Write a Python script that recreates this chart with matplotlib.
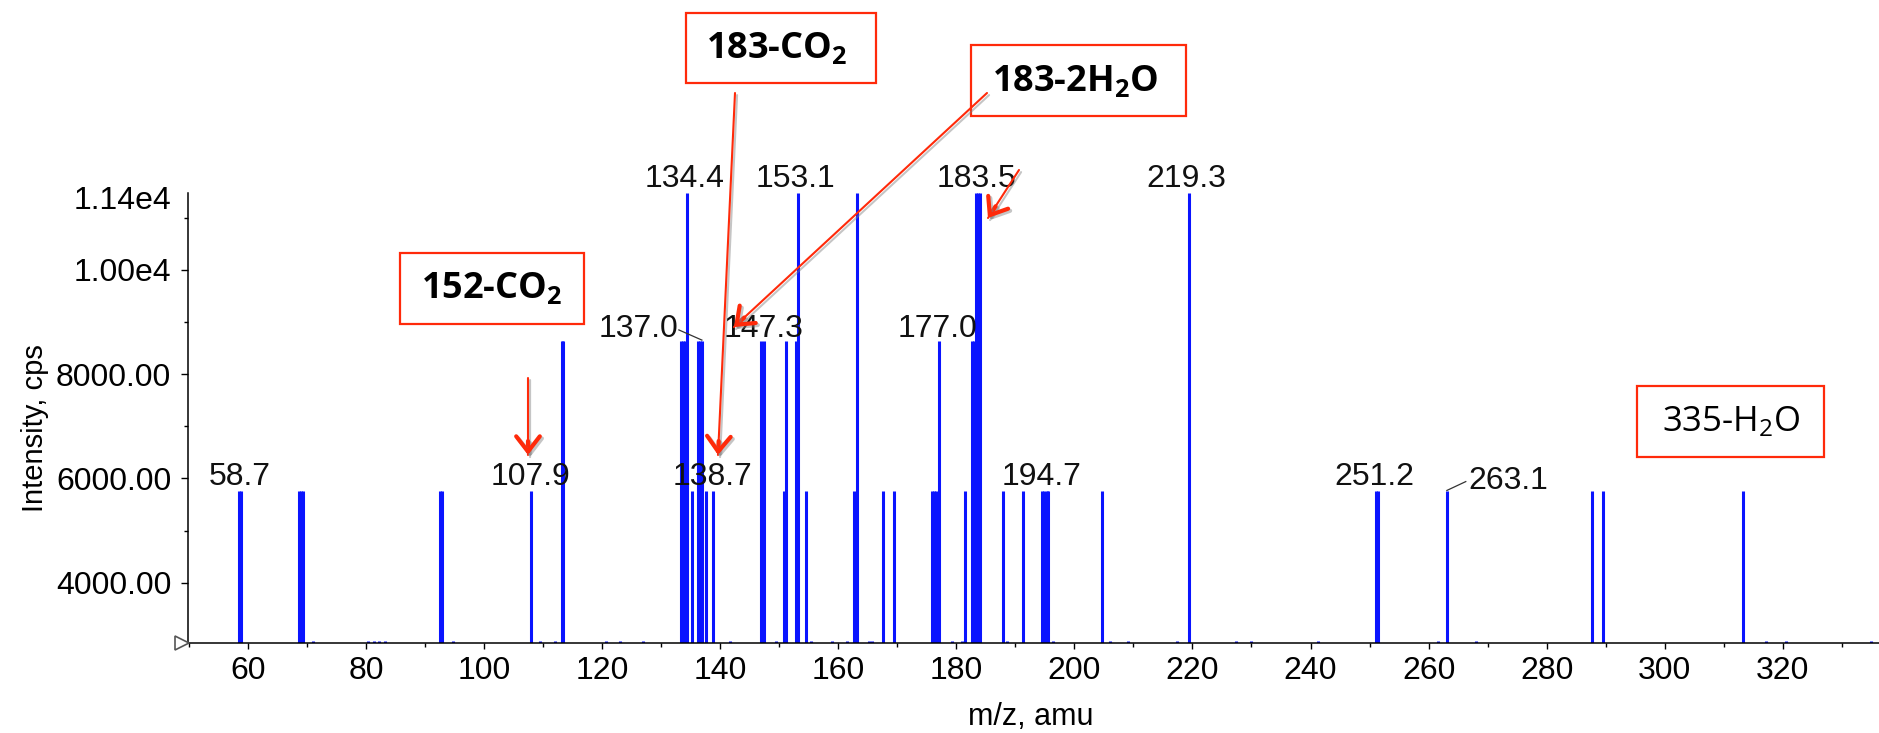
import matplotlib
matplotlib.use('Agg')
import matplotlib.pyplot as plt
from matplotlib.patches import Rectangle, FancyArrowPatch
from matplotlib import patheffects as pe
from matplotlib.ticker import FixedLocator, FixedFormatter
import numpy as np

# ---------------- data ----------------
L1, L2, L3, L4 = 2880, 5760, 8640, 11480

peak_mz = [58.55, 58.85, 68.6, 68.95, 69.3, 71.0, 80.4, 81.3, 82.2, 83.2,
           92.5, 92.85, 94.8, 107.9, 109.4, 112.0, 113.15, 113.45,
           120.7, 123.0, 126.9, 133.4, 133.7, 134.0, 134.4, 135.3,
           136.3, 136.65, 137.0, 137.6, 138.7, 141.7, 146.95, 147.35,
           149.4, 150.8, 151.2, 152.85, 153.15, 154.5, 155.3, 158.9,
           161.4, 162.65, 163.1, 165.2, 165.8, 167.65, 169.45,
           175.8, 176.15, 176.5, 177.1, 179.2, 180.9, 181.45,
           182.6, 182.95, 183.35, 183.65, 183.95, 187.9, 188.6, 191.3,
           194.55, 194.9, 195.3, 195.6, 196.4, 204.7, 206.1, 209.1,
           217.4, 219.4, 227.3, 229.9, 241.2, 251.05, 251.4, 261.6,
           263.2, 268.0, 287.7, 289.5, 313.2, 317.2, 320.5, 335.0]
peak_int = [L2, L2, L2, L2, L2, L1, L1, L1, L1, L1,
            L2, L2, L1, L2, L1, L1, L3, L3,
            L1, L1, L1, L3, L3, L3, L4, L2,
            L3, L3, L3, L2, L2, L1, L3, L3,
            L1, L2, L3, L3, L4, L2, L1, L1,
            L1, L2, L4, L1, L1, L2, L2,
            L2, L2, L2, L3, L1, L1, L2,
            L3, L3, L4, L4, L4, L2, L1, L2,
            L2, L2, L2, L2, L1, L2, L1, L1,
            L1, L4, L1, L1, L1, L2, L2, L1,
            L2, L1, L2, L2, L2, L1, L1, L1]

label_text = ['58.7', '107.9', '134.4', '137.0', '138.7', '147.3', '153.1',
              '177.0', '183.5', '194.7', '219.3', '251.2', '263.1']
label_x = [58.7, 107.9, 134.0, 126.1, 138.7, 147.4, 152.8,
           176.8, 183.4, 194.5, 219.0, 250.8, 266.8]
label_y = [L2, L2, L4, L3, L2, L3, L4, L3, L4, L2, L4, L2, L2]
label_ha = ['center'] * 12 + ['left']
label_dy = [6, 6, 6, 3.5, 6, 4, 6, 4, 6, 6, 6, 6, 2]   # pixels above level

# leader lines (m/z, intensity) pairs
leaders = [((133.0, 8850), (136.9, 8655)),
           ((263.1, 5770), (266.3, 5940))]

x_major = list(range(60, 321, 20))
x_minor = list(range(50, 336, 10))
y_major = [4000, 6000, 8000, 10000, 11400]
y_major_labels = ['4000.00', '6000.00', '8000.00', '1.00e4', '1.14e4']
y_minor = [5000, 7000, 9000, 11000]

# annotation boxes: (text, x0, x1, y0, y1, text-x, text-y, bold, size) in image pixels
boxes = [('152-CO$_\\mathbf{2}$', 400, 584, 253, 324, 492, 289, True, 26),
         ('183-CO$_\\mathbf{2}$', 686, 876, 13, 83, 777, 49, True, 26),
         ('183-2H$_\\mathbf{2}$O', 971, 1186, 45, 116, 1075, 82, True, 26),
         ('335-H$_2$O', 1637, 1824, 386, 457, 1731, 422, False, 25)]
arrows = [((528, 378), (528, 455)),
          ((735, 93), (718, 455)),
          ((987, 93), (734, 327)),
          ((1019, 170), (988, 218))]

# ---------------- style ----------------
W, H, DPI = 1879, 733, 100
BLUE = '#0a14ff'
RED = '#ff2a0a'

plt.rcParams['font.family'] = ['Liberation Sans', 'DejaVu Sans']
plt.rcParams['mathtext.fontset'] = 'custom'
plt.rcParams['mathtext.rm'] = 'Open Sans'
plt.rcParams['mathtext.bf'] = 'Open Sans:bold'
plt.rcParams['mathtext.it'] = 'Open Sans:italic'

fig = plt.figure(figsize=(W / DPI, H / DPI), dpi=DPI)
fig.patch.set_facecolor('white')
ax_left, ax_bottom_px, ax_top_px = 188, 643.3, 192.7
ax = fig.add_axes([ax_left / W, 1 - ax_bottom_px / H,
                   (W - ax_left) / W, (ax_bottom_px - ax_top_px) / H])

ax.vlines(peak_mz, 0, peak_int, colors=BLUE, lw=2.2)
ax.set_xlim(49.85, 336.3)
ax.set_ylim(2837, 11483)

for s in ['top', 'right']:
    ax.spines[s].set_visible(False)
for s in ['left', 'bottom']:
    ax.spines[s].set_linewidth(1.1)
    ax.spines[s].set_color('black')

ax.xaxis.set_major_locator(FixedLocator(x_major))
ax.xaxis.set_minor_locator(FixedLocator(x_minor))
ax.yaxis.set_major_locator(FixedLocator(y_major))
ax.yaxis.set_major_formatter(FixedFormatter(y_major_labels))
ax.yaxis.set_minor_locator(FixedLocator(y_minor))
ax.tick_params(axis='y', which='major', length=5, width=1, pad=7, labelsize=23)
ax.tick_params(axis='x', which='major', length=4.5, width=1, pad=5, labelsize=23)
ax.tick_params(which='minor', length=3, width=1)
# the top label (axis maximum) has no tick mark
ax.yaxis.get_major_ticks()[-1].tick1line.set_visible(False)

ax.set_xlabel('m/z, amu', fontsize=22)
ax.xaxis.set_label_coords(0.4985, (ax_bottom_px - 702) / (ax_bottom_px - ax_top_px))
ax.set_ylabel('Intensity, cps', fontsize=21)
ax.yaxis.set_label_coords((49 - ax_left) / (W - ax_left), 0.478)

# little start marker on the baseline
ax.plot([-0.0036], [0], transform=ax.transAxes, marker='>', ms=10,
        mfc='white', mec='#555555', mew=1.2, clip_on=False, zorder=5)

# peak labels
for t, x, y, ha, dy in zip(label_text, label_x, label_y, label_ha, label_dy):
    ax.annotate(t, (x, y), xytext=(0, dy * 72 / DPI), textcoords='offset points',
                ha=ha, va='baseline', fontsize=23, color='#111111',
                annotation_clip=False)
for (a, b) in leaders:
    ax.plot([a[0], b[0]], [a[1], b[1]], color='#333333', lw=0.9, clip_on=False)


def fpt(x, y):
    return (x / W, 1 - y / H)


# red boxes
for text, x0, x1, y0, y1, tx, ty, bold, size in boxes:
    r = Rectangle(fpt(x0, y1), (x1 - x0) / W, (y1 - y0) / H,
                  transform=fig.transFigure, facecolor='white', edgecolor=RED,
                  lw=1.6, zorder=5)
    fig.add_artist(r)
    fig.text(*fpt(tx, ty), text, ha='center', va='center', fontsize=size,
             fontweight='bold' if bold else 'normal', family='Open Sans',
             color='black', zorder=6)

# red arrows
shadow = [pe.SimpleLineShadow(offset=(1.5, -1.5), shadow_color='#808080', alpha=0.45),
          pe.Normal()]
for (x0, y0), (x1, y1) in arrows:
    shaft = FancyArrowPatch(fpt(x0, y0), fpt(x1, y1), transform=fig.transFigure,
                            arrowstyle='-', color=RED, lw=1.5, shrinkA=0, shrinkB=0,
                            path_effects=shadow, zorder=7)
    fig.add_artist(shaft)
    d = np.hypot(x1 - x0, y1 - y0)
    ux, uy = (x1 - x0) / d, (y1 - y0) / d
    hx, hy = x1 - ux * 14, y1 - uy * 14
    head = FancyArrowPatch(fpt(hx, hy), fpt(x1, y1), transform=fig.transFigure,
                           arrowstyle='->,head_length=11,head_width=8.5',
                           mutation_scale=1, color=RED, lw=3, shrinkA=0, shrinkB=0,
                           path_effects=shadow, zorder=7)
    fig.add_artist(head)

fig.savefig('out.png', dpi=DPI, facecolor='white')
